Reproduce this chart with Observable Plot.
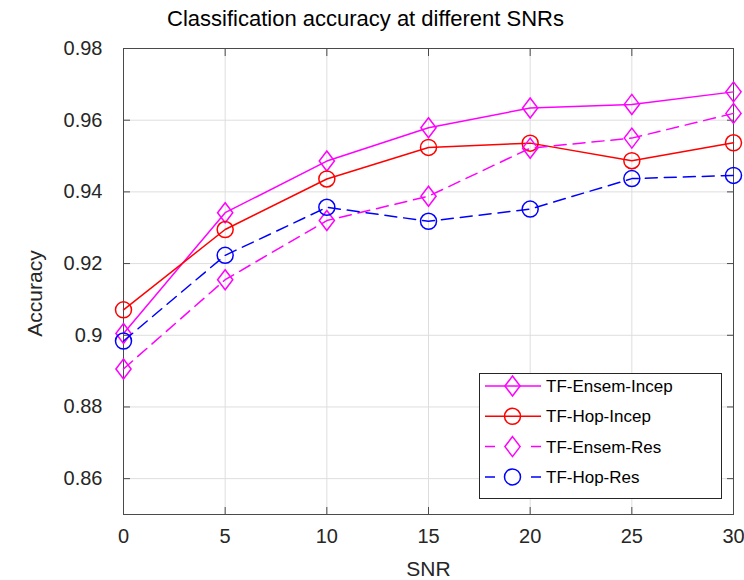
<!DOCTYPE html>
<html>
<head>
<meta charset="utf-8">
<script src="https://cdn.jsdelivr.net/npm/d3@7"></script>
<script src="https://cdn.jsdelivr.net/npm/@observablehq/plot@0.6"></script>
<style>
  html, body { margin: 0; padding: 0; background: #fff; }
  #chart svg { display: block; }
</style>
</head>
<body>
<div id="chart"></div>
<script>
const snr = [0, 5, 10, 15, 20, 25, 30];
const ensemIncep = [0.9005, 0.9342, 0.9486, 0.9579, 0.9634, 0.9644, 0.9679];
const hopIncep   = [0.9071, 0.9295, 0.9436, 0.9524, 0.9536, 0.9487, 0.9537];
const ensemRes   = [0.8906, 0.9155, 0.9320, 0.9388, 0.9522, 0.9550, 0.9619];
const hopRes     = [0.8984, 0.9223, 0.9357, 0.9318, 0.9352, 0.9437, 0.9446];
const seriesNames = ["TF-Ensem-Incep", "TF-Hop-Incep", "TF-Ensem-Res", "TF-Hop-Res"];
const xTicks = [0, 5, 10, 15, 20, 25, 30];
const yTicks = [0.86, 0.88, 0.9, 0.92, 0.94, 0.96, 0.98];
const titleText = "Classification accuracy at different SNRs";
const xLabel = "SNR";
const yLabel = "Accuracy";

const FONT = "'Liberation Sans', Arial, Helvetica, sans-serif";

const diamond = {
  draw(context, size) {
    const r = Math.sqrt(size / Math.PI);
    const w = 0.95 * r, h = 1.25 * r;
    context.moveTo(0, -h);
    context.lineTo(w, 0);
    context.lineTo(0, h);
    context.lineTo(-w, 0);
    context.closePath();
  }
};

const seriesValues = [ensemIncep, hopIncep, ensemRes, hopRes];
const styles = [
  {color: "#ff00ff", dash: null, symbol: diamond},
  {color: "#ff0000", dash: null, symbol: "circle"},
  {color: "#ff00ff", dash: "12,7", symbol: diamond},
  {color: "#0000ff", dash: "12,7", symbol: "circle"}
];

const rows = seriesNames.map((name, i) => snr.map((s, j) => ({series: name, snr: s, acc: seriesValues[i][j]})));

const dataMarks = [];
rows.forEach((data, i) => {
  const st = styles[i];
  dataMarks.push(Plot.line(data, {x: "snr", y: "acc", stroke: st.color, strokeWidth: 1.5, strokeDasharray: st.dash}));
  dataMarks.push(Plot.dot(data, {x: "snr", y: "acc", r: 8, symbol: st.symbol, stroke: st.color, fill: "none", strokeWidth: 1.5}));
});

const axisColor = "#4a4a4a";

const chart = Plot.plot({
  width: 744,
  height: 580,
  marginLeft: 123,
  marginRight: 11,
  marginTop: 48,
  marginBottom: 66,
  style: {fontFamily: FONT, background: "#fff", overflow: "visible"},
  x: {domain: [0, 30], ticks: xTicks},
  y: {domain: [0.85, 0.98], ticks: yTicks},
  marks: [
    Plot.gridX(xTicks, {stroke: "#dedede", strokeOpacity: 1, strokeWidth: 1}),
    Plot.gridY(yTicks, {stroke: "#dedede", strokeOpacity: 1, strokeWidth: 1}),
    Plot.axisX(xTicks, {anchor: "bottom", tickSize: -7, text: null, stroke: axisColor, label: null}),
    Plot.axisX(xTicks, {anchor: "top", tickSize: -7, text: null, stroke: axisColor, label: null}),
    Plot.axisY(yTicks, {anchor: "left", tickSize: -7, text: null, stroke: axisColor, label: null}),
    Plot.axisY(yTicks, {anchor: "right", tickSize: -7, text: null, stroke: axisColor, label: null}),
    Plot.axisX(xTicks, {anchor: "bottom", tickSize: 0, tickPadding: 14, fontSize: 20, fill: "#262626", label: null, tickFormat: d => String(d)}),
    Plot.axisY(yTicks, {anchor: "left", tickSize: 0, tickPadding: 21, fontSize: 20, fill: "#262626", label: null, tickFormat: d => String(d)}),
    Plot.frame({stroke: axisColor, strokeWidth: 1}),
    ...dataMarks,
    Plot.text([titleText], {frameAnchor: "top", dx: -63, dy: -30, fontSize: 22, fill: "#000", lineAnchor: "middle"}),
    Plot.text([xLabel], {frameAnchor: "bottom", dy: 55, fontSize: 21, fill: "#262626", lineAnchor: "middle"}),
    Plot.text([yLabel], {frameAnchor: "left", dx: -88, dy: 12, rotate: -90, textAnchor: "middle", fontSize: 21, fill: "#262626", lineAnchor: "middle"})
  ]
});

// Legend
const svg = d3.select(chart);
const lg = svg.append("g").attr("font-family", FONT).attr("text-anchor", "start");
const box = {x: 479, y: 373, w: 242, h: 125};
lg.append("rect").attr("x", box.x + 0.5).attr("y", box.y + 0.5).attr("width", box.w).attr("height", box.h)
  .attr("fill", "#fff").attr("stroke", "#262626").attr("stroke-width", 1);
seriesNames.forEach((name, i) => {
  const st = styles[i];
  const cy = 386 + i * 30.3;
  const line = lg.append("line").attr("x1", 485).attr("x2", 541).attr("y1", cy).attr("y2", cy)
    .attr("stroke", st.color).attr("stroke-width", 1.5);
  if (st.dash) line.attr("stroke-dasharray", "10,18,0,18,10");
  const p = d3.path();
  if (st.symbol === diamond) diamond.draw(p, 64 * Math.PI);
  else { p.moveTo(8, 0); p.arc(0, 0, 8, 0, 2 * Math.PI); }
  lg.append("path").attr("d", p.toString()).attr("transform", `translate(512.5,${cy})`)
    .attr("fill", "none").attr("stroke", st.color).attr("stroke-width", 1.5);
  lg.append("text").attr("x", 546).attr("y", cy).attr("dy", "0.35em").attr("font-size", 17).attr("fill", "#000").text(name);
});

document.getElementById("chart").appendChild(chart);
</script>
</body>
</html>
